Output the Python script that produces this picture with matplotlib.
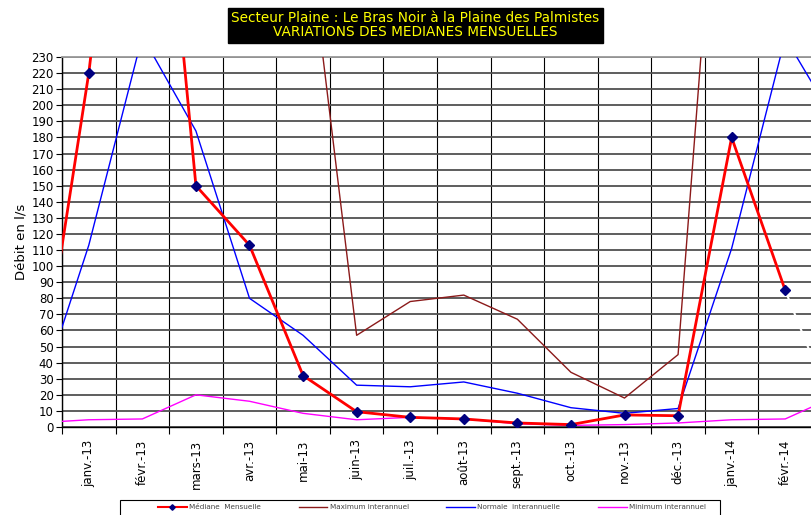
import matplotlib.pyplot as plt
from matplotlib.lines import Line2D
from matplotlib.patches import Rectangle

# month labels shown on the axis
months = ["janv.-13", "févr.-13", "mars-13", "avr.-13", "mai-13", "juin-13",
          "juil.-13", "août-13", "sept.-13", "oct.-13", "nov.-13", "déc.-13",
          "janv.-14", "févr.-14"]

# series start one month before janv.-13 (déc.-12) and run past the right edge
mediane = [5, 220, 500, 150, 113, 32, 9.5, 6, 5, 2.5, 1.5, 7.5, 7, 180, 85]
mediane_next = [85, 2]   # drawn in white after févr.-14
maximum = [45, 480, 700, 600, 450, 332, 57, 78, 82, 67, 34, 18, 45, 480, 700, 600]
normale = [11, 113, 243, 184, 80, 57, 26, 25, 28, 21, 12, 8.5, 11.5, 111, 242, 186]
minimum = [2.5, 4.5, 5, 20, 16, 8.5, 4.5, 6, 5, 2, 1, 1.5, 2.5, 4.5, 5, 20]

x_med = list(range(-1, len(mediane) - 1))
x_all = list(range(-1, len(normale) - 1))

fig = plt.figure(figsize=(8.12, 5.15), dpi=100)
ax = fig.add_axes([62 / 812, 1 - 427 / 515, 1 - 62 / 812, 370 / 515])

ax.plot(x_all, maximum, color="#8B1A1A", lw=1.0, zorder=3)
ax.plot(x_all, normale, color="#0000FF", lw=1.0, zorder=3)
ax.plot(x_all, minimum, color="#FF00FF", lw=1.0, zorder=3)
ax.plot([13, 14], mediane_next, color="white", lw=1.5, zorder=4)
ax.plot(x_med, mediane, color="#FF0000", lw=2.0, zorder=5,
        marker="D", markersize=4.8, markerfacecolor="#000080", markeredgecolor="#000080")

ax.set_xlim(-0.5, 13.39)
ax.set_ylim(0, 230)

ax.set_yticks(range(0, 231, 10))
ax.set_xticks(range(len(months)))
ax.set_xticklabels(months, rotation=90, fontsize=8.5)
ax.set_xticks([i + 0.5 for i in range(-1, 14)], minor=True)
ax.tick_params(axis="x", which="major", length=0, pad=9)
ax.tick_params(axis="x", which="minor", length=5, width=0.8, color="black")
ax.tick_params(axis="y", labelsize=8.5, length=4, width=0.8, pad=2)

ax.grid(axis="y", which="major", color="#505050", lw=1.3, zorder=1)
ax.grid(axis="x", which="minor", color="black", lw=0.8, zorder=1)
ax.set_axisbelow(True)

ax.spines["right"].set_visible(False)
ax.spines["top"].set_color("#999999")
ax.spines["top"].set_linewidth(1.3)
ax.spines["left"].set_linewidth(1.0)
ax.spines["bottom"].set_linewidth(1.0)

ax.set_ylabel("Débit en l/s", fontsize=9.5, labelpad=3)

fig.text(0.5117, 0.951,
         "Secteur Plaine : Le Bras Noir à la Plaine des Palmistes\nVARIATIONS DES MEDIANES MENSUELLES",
         ha="center", va="center", fontsize=9.8, color="#FFFF00", linespacing=1.0,
         bbox=dict(facecolor="black", edgecolor="black", boxstyle="square,pad=0.25"))

# legend frame drawn by hand, entries laid out inside it
fig.patches.append(Rectangle((120 / 812, -0.05), 600 / 812, 1 - 500 / 515 + 0.05,
                             transform=fig.transFigure, facecolor="white",
                             edgecolor="black", lw=0.8, zorder=0))
handles = [
    Line2D([], [], color="#FF0000", lw=1.5, marker="D", markersize=2.8,
           markerfacecolor="#000080", markeredgecolor="#000080"),
    Line2D([], [], color="#8B1A1A", lw=1.0),
    Line2D([], [], color="#0000FF", lw=1.0),
    Line2D([], [], color="#FF00FF", lw=1.0),
]
labels = ["Médiane  Mensuelle", "Maximum interannuel",
          "Normale  interannuelle", "Minimum interannuel"]
leg = fig.legend(handles, labels, loc="center", ncol=4,
                 bbox_to_anchor=(432 / 812, 1 - 507 / 515),
                 fontsize=5.2, frameon=False, handlelength=4.0,
                 handletextpad=0.3, columnspacing=5.2, borderpad=0.0,
                 labelcolor="#444444")

fig.savefig("out.png", dpi=100)
